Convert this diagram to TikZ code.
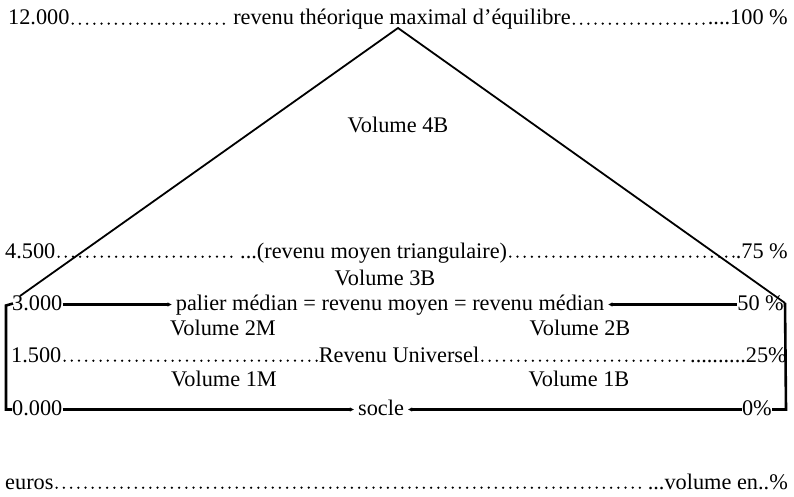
\documentclass[tikz,border=0pt]{standalone}
\usepackage{fontspec}
\setmainfont{Liberation Serif}
\usetikzlibrary{arrows.meta}
\begin{document}
\begin{tikzpicture}[x=1pt,y=-1pt,
  lbl/.style={inner sep=0pt, anchor=base, font=\fontsize{22.3}{25}\selectfont},
  leader/.style={line width=2.5pt, line cap=round, dash pattern=on 0pt off 7.2pt, shorten <=3pt, shorten >=2pt},
  rule/.style={line width=2.1pt},
  tipin/.style={rule, -{Triangle[length=8pt, width=2.6pt]}},
  tipout/.style={rule, {Triangle[length=8pt, width=2.6pt]}-},
  tri/.style={line width=1.8pt},
  bracket/.style={line width=2.6pt, line join=miter}]
\useasboundingbox (0,0) rectangle (794,497);

% top row: 12.000 / 100 %
\node[lbl, anchor=base west] (e12) at (8,25) {12.000};
\node[lbl] (tmax) at (402,25) {revenu théorique maximal d’équilibre};
\node[lbl, anchor=base east] (p100) at (788,25) {....100 \%};

\node[lbl] (v4b) at (398,133) {Volume 4B};

% 4.500 / 75 %
\node[lbl, anchor=base west] (e45) at (5,258) {4.500};
\node[lbl, anchor=base west] (tmoy) at (240,258) {...(revenu moyen triangulaire)};
\node[lbl, anchor=base east] (p75) at (788,258) {.75 \%};

\node[lbl] (v3b) at (385,285) {Volume 3B};

% 3.000 / 50 %
\node[lbl, anchor=base west] (e30) at (12,310) {3.000};
\node[lbl] (tmed) at (390,310) {palier médian = revenu moyen = revenu médian};
\node[lbl, anchor=base east] (p50) at (784,310) {50 \%};

\node[lbl] (v2m) at (223,335) {Volume 2M};
\node[lbl] (v2b) at (580,335) {Volume 2B};

% 1.500 / 25 %
\node[lbl, anchor=base west] (e15) at (11,362) {1.500};
\node[lbl] (tru) at (399,362) {Revenu Universel};
\node[lbl, anchor=base east] (p25) at (787,362) {..........25\%};

\node[lbl] (v1m) at (224,386) {Volume 1M};
\node[lbl] (v1b) at (579,386) {Volume 1B};

% 0.000 / 0 %
\node[lbl, anchor=base west] (e0) at (12,415) {0.000};
\node[lbl] (tsoc) at (381,415) {socle};
\node[lbl, anchor=base east] (p0) at (772,415) {0\%};

% axis captions
\node[lbl, anchor=base west] (eur) at (5,489) {euros};
\node[lbl, anchor=base east] (pvol) at (788,489) {...volume en..\%};

% dotted leaders
\draw[leader] ([yshift=1.3pt]e12.base east) -- ([yshift=1.3pt]tmax.base west);
\draw[leader] ([yshift=1.3pt]tmax.base east) -- ([yshift=1.3pt]p100.base west);
\draw[leader] ([yshift=1.3pt]e45.base east) -- ([yshift=1.3pt]tmoy.base west);
\draw[leader] ([yshift=1.3pt]tmoy.base east) -- ([yshift=1.3pt]p75.base west);
\draw[leader] ([yshift=1.3pt]e15.base east) -- ([yshift=1.3pt]tru.base west);
\draw[leader] ([yshift=1.3pt]tru.base east) -- ([yshift=1.3pt]p25.base west);
\draw[leader] ([yshift=1.3pt]eur.base east) -- ([yshift=1.3pt]pvol.base west);

% solid rules, tapering towards the middle captions
\draw[tipin] ([yshift=5.5pt]e30.base east) -- ([yshift=5.5pt]tmed.base west);
\draw[tipout] ([yshift=5.5pt]tmed.base east) -- ([yshift=5.5pt]p50.base west);
\draw[tipin] ([yshift=5.5pt]e0.base east) -- ([yshift=5.5pt]tsoc.base west);
\draw[tipout] ([yshift=5.5pt]tsoc.base east) -- ([yshift=5.5pt]p0.base west);

% triangle
\coordinate (apex) at (398,28);
\coordinate (tl) at (20,296);
\coordinate (tr) at (785,303);
\draw[tri] (tl) -- (apex) -- (tr);

% brackets
\coordinate (rb) at (786,409.5);
\draw[bracket] (tr) -- (rb) -- ([yshift=5.5pt]p0.base east);
\draw[bracket] ([xshift=1pt,yshift=6.5pt]e30.base west) -- ++(-7,2) |- ([yshift=5.5pt]e0.base west);
\end{tikzpicture}
\end{document}
